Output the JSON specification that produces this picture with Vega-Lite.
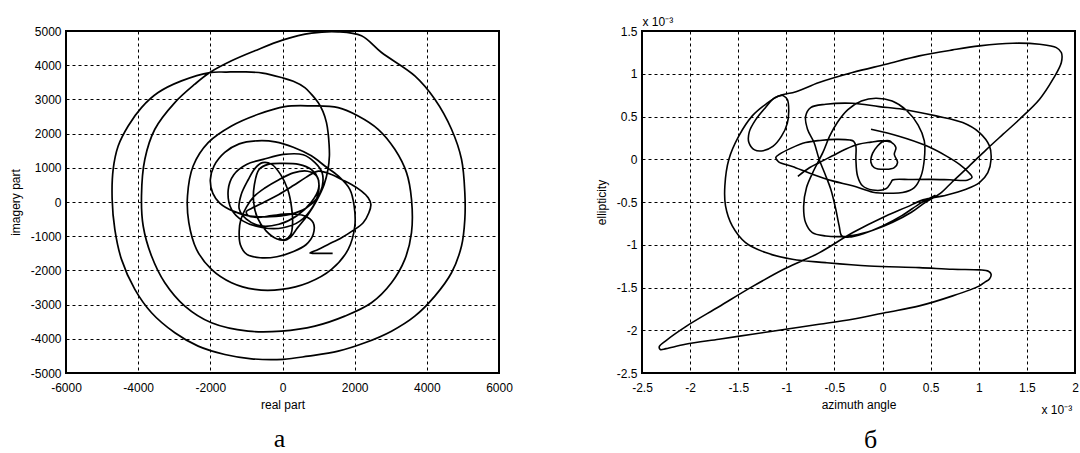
{
  "$schema": "https://vega.github.io/schema/vega-lite/v6.json",
  "background": "white",
  "padding": {"left": 8, "top": 14, "right": 0, "bottom": 0},
  "spacing": 143,
  "bounds": "flush",
  "config": {
    "view": {"stroke": "black", "strokeWidth": 2},
    "axis": {
      "labelFont": "Liberation Sans", "labelFontSize": 12, "labelColor": "#000",
      "titleFont": "Liberation Sans", "titleFontSize": 12, "titleFontWeight": "normal", "titleColor": "#000",
      "grid": true, "gridColor": "#000", "gridDash": [3, 3], "gridOpacity": 1, "gridWidth": 1,
      "ticks": false, "domain": false, "labelPadding": 5, "labelFlush": false, "labelOverlap": false
    },
    "axisX": {"labelPadding": 9}
  },
  "datasets": {
    "left": [
      {"i":1,"x":-100,"y":-1050},{"i":2,"x":50,"y":-1120},{"i":3,"x":200,"y":-1050},{"i":4,"x":420,"y":-750},{"i":5,"x":700,"y":-380},
      {"i":6,"x":950,"y":50},{"i":7,"x":1150,"y":500},{"i":8,"x":1260,"y":950},{"i":9,"x":1300,"y":1350},{"i":10,"x":1290,"y":1700},
      {"i":11,"x":1266,"y":2000},{"i":12,"x":1219,"y":2322},{"i":13,"x":1120,"y":2650},{"i":14,"x":988,"y":2907},{"i":15,"x":800,"y":3150},
      {"i":16,"x":619,"y":3346},{"i":17,"x":300,"y":3530},{"i":18,"x":-28,"y":3639},{"i":19,"x":-550,"y":3770},{"i":20,"x":-1044,"y":3805},
      {"i":21,"x":-1550,"y":3800},{"i":22,"x":-2014,"y":3785},{"i":23,"x":-2799,"y":3541},{"i":24,"x":-3446,"y":3200},{"i":25,"x":-3908,"y":2761},
      {"i":26,"x":-4277,"y":2224},{"i":27,"x":-4554,"y":1639},{"i":28,"x":-4693,"y":956},{"i":29,"x":-4721,"y":78},{"i":30,"x":-4647,"y":-800},
      {"i":31,"x":-4462,"y":-1678},{"i":32,"x":-4092,"y":-2556},{"i":33,"x":-3630,"y":-3239},{"i":34,"x":-2984,"y":-3824},{"i":35,"x":-2337,"y":-4215},
      {"i":36,"x":-1598,"y":-4459},{"i":37,"x":-859,"y":-4585},{"i":38,"x":18,"y":-4600},{"i":39,"x":711,"y":-4507},{"i":40,"x":1543,"y":-4361},
      {"i":41,"x":2282,"y":-4117},{"i":42,"x":3021,"y":-3776},{"i":43,"x":3667,"y":-3337},{"i":44,"x":4222,"y":-2751},{"i":45,"x":4684,"y":-2068},
      {"i":46,"x":4961,"y":-1288},{"i":47,"x":5053,"y":-507},{"i":48,"x":5053,"y":273},{"i":49,"x":4961,"y":1249},{"i":50,"x":4684,"y":2127},
      {"i":51,"x":4222,"y":3005},{"i":52,"x":3667,"y":3688},{"i":53,"x":2744,"y":4371},{"i":54,"x":2189,"y":4859},{"i":55,"x":1543,"y":4976},
      {"i":56,"x":804,"y":4937},{"i":57,"x":18,"y":4741},{"i":58,"x":-767,"y":4420},{"i":59,"x":-1413,"y":4127},{"i":60,"x":-2014,"y":3785},
      {"i":61,"x":-2430,"y":3444},{"i":62,"x":-2984,"y":2907},{"i":63,"x":-3538,"y":2127},{"i":64,"x":-3815,"y":1249},{"i":65,"x":-3908,"y":176},
      {"i":66,"x":-3861,"y":-702},{"i":67,"x":-3630,"y":-1580},{"i":68,"x":-3261,"y":-2361},{"i":69,"x":-2707,"y":-3044},{"i":70,"x":-1968,"y":-3532},
      {"i":71,"x":-952,"y":-3776},{"i":72,"x":-28,"y":-3776},{"i":73,"x":896,"y":-3629},{"i":74,"x":1727,"y":-3337},{"i":75,"x":2466,"y":-2946},
      {"i":76,"x":3021,"y":-2361},{"i":77,"x":3390,"y":-1678},{"i":78,"x":3575,"y":-898},{"i":79,"x":3575,"y":78},{"i":80,"x":3437,"y":859},
      {"i":81,"x":3113,"y":1541},{"i":82,"x":2651,"y":2127},{"i":83,"x":2097,"y":2517},{"i":84,"x":1543,"y":2761},{"i":85,"x":804,"y":2810},
      {"i":86,"x":65,"y":2790},{"i":87,"x":-674,"y":2566},{"i":88,"x":-1413,"y":2224},{"i":89,"x":-2060,"y":1737},{"i":90,"x":-2476,"y":1054},
      {"i":91,"x":-2633,"y":176},{"i":92,"x":-2596,"y":-605},{"i":93,"x":-2383,"y":-1385},{"i":94,"x":-1968,"y":-1971},{"i":95,"x":-1413,"y":-2361},
      {"i":96,"x":-767,"y":-2556},{"i":97,"x":-28,"y":-2556},{"i":98,"x":711,"y":-2361},{"i":99,"x":1358,"y":-1971},{"i":100,"x":1820,"y":-1385},
      {"i":101,"x":2004,"y":-702},{"i":102,"x":1986,"y":-117},{"i":103,"x":1866,"y":371},{"i":104,"x":1543,"y":761},{"i":105,"x":1173,"y":1054},
      {"i":106,"x":800,"y":1350},{"i":107,"x":300,"y":1600},{"i":108,"x":-200,"y":1760},{"i":109,"x":-700,"y":1790},{"i":110,"x":-1200,"y":1700},
      {"i":111,"x":-1600,"y":1450},{"i":112,"x":-1900,"y":1050},{"i":113,"x":-2000,"y":650},{"i":114,"x":-1930,"y":250},{"i":115,"x":-1740,"y":-30},
      {"i":116,"x":-1366,"y":-267},{"i":117,"x":-904,"y":-411},{"i":118,"x":-350,"y":-430},{"i":119,"x":204,"y":-361},{"i":120,"x":650,"y":-180},
      {"i":121,"x":950,"y":100},{"i":122,"x":1100,"y":450},{"i":123,"x":1100,"y":850},{"i":124,"x":900,"y":1150},{"i":125,"x":574,"y":1380},
      {"i":126,"x":19,"y":1391},{"i":127,"x":-535,"y":1245},{"i":128,"x":-997,"y":1099},{"i":129,"x":-1350,"y":800},{"i":130,"x":-1505,"y":350},
      {"i":131,"x":-1413,"y":-218},{"i":132,"x":-1089,"y":-559},{"i":133,"x":-535,"y":-752},{"i":134,"x":19,"y":-752},{"i":135,"x":481,"y":-559},
      {"i":136,"x":850,"y":-120},{"i":137,"x":1000,"y":300},{"i":138,"x":980,"y":700},{"i":139,"x":800,"y":950},{"i":140,"x":450,"y":1100},
      {"i":141,"x":0,"y":1130},{"i":142,"x":-400,"y":1100},{"i":143,"x":-650,"y":950},{"i":144,"x":-780,"y":500},{"i":145,"x":-800,"y":0},
      {"i":146,"x":-700,"y":-450},{"i":147,"x":-450,"y":-850},{"i":148,"x":-150,"y":-1080},{"i":149,"x":80,"y":-1100},{"i":150,"x":230,"y":-950},
      {"i":151,"x":280,"y":-600},{"i":152,"x":250,"y":-150},{"i":153,"x":150,"y":350},{"i":154,"x":-50,"y":800},{"i":155,"x":-300,"y":1100},
      {"i":156,"x":-550,"y":1150},{"i":157,"x":-750,"y":1000},{"i":158,"x":-950,"y":650},{"i":159,"x":-1150,"y":200},{"i":160,"x":-1200,"y":-200},
      {"i":161,"x":-1000,"y":-500},{"i":162,"x":-600,"y":-700},{"i":163,"x":-100,"y":-650},{"i":164,"x":400,"y":-400},{"i":165,"x":800,"y":0},
      {"i":166,"x":1000,"y":400},{"i":167,"x":950,"y":750},{"i":168,"x":700,"y":900},{"i":169,"x":300,"y":850},{"i":170,"x":-100,"y":650},
      {"i":171,"x":-500,"y":400},{"i":172,"x":-800,"y":150},{"i":173,"x":-1000,"y":-150},{"i":174,"x":-1150,"y":-500},{"i":175,"x":-1200,"y":-850},
      {"i":176,"x":-1170,"y":-1240},{"i":177,"x":-988,"y":-1532},{"i":178,"x":-618,"y":-1630},{"i":179,"x":-156,"y":-1600},{"i":180,"x":306,"y":-1450},
      {"i":181,"x":650,"y":-1250},{"i":182,"x":850,"y":-950},{"i":183,"x":850,"y":-600},{"i":184,"x":600,"y":-400},{"i":185,"x":200,"y":-350},
      {"i":186,"x":-300,"y":-400},{"i":187,"x":-700,"y":-450},{"i":188,"x":-950,"y":-400},{"i":189,"x":-1000,"y":-280},{"i":190,"x":-850,"y":-180},
      {"i":191,"x":-500,"y":0},{"i":192,"x":-100,"y":220},{"i":193,"x":300,"y":480},{"i":194,"x":650,"y":720},{"i":195,"x":989,"y":904},
      {"i":196,"x":1358,"y":806},{"i":197,"x":1636,"y":660},{"i":198,"x":1913,"y":514},{"i":199,"x":2190,"y":319},{"i":200,"x":2375,"y":124},
      {"i":201,"x":2449,"y":-71},{"i":202,"x":2394,"y":-314},{"i":203,"x":2236,"y":-606},{"i":204,"x":1959,"y":-831},{"i":205,"x":1636,"y":-1045},
      {"i":206,"x":1266,"y":-1240},{"i":207,"x":989,"y":-1386},{"i":208,"x":800,"y":-1470},{"i":209,"x":760,"y":-1495},{"i":210,"x":900,"y":-1500},
      {"i":211,"x":1390,"y":-1500}
    ],
    "right": [
      {"s":1,"i":1,"x":-0.12,"y":0.35},{"s":1,"i":2,"x":0.17,"y":0.27},{"s":1,"i":3,"x":0.45,"y":0.16},{"s":1,"i":4,"x":0.66,"y":0.04},
      {"s":1,"i":5,"x":0.8,"y":-0.06},{"s":1,"i":6,"x":0.9,"y":-0.16},{"s":1,"i":7,"x":0.93,"y":-0.21},{"s":1,"i":8,"x":0.88,"y":-0.245},
      {"s":1,"i":9,"x":0.7,"y":-0.24},{"s":1,"i":10,"x":0.5,"y":-0.235},{"s":1,"i":11,"x":0.3,"y":-0.237},{"s":1,"i":12,"x":0.104,"y":-0.242},
      {"s":1,"i":13,"x":0.087,"y":-0.273},{"s":1,"i":14,"x":0.035,"y":-0.345},{"s":1,"i":15,"x":-0.104,"y":-0.36},{"s":1,"i":16,"x":-0.208,"y":-0.31},
      {"s":1,"i":17,"x":-0.26,"y":-0.195},{"s":1,"i":18,"x":-0.277,"y":0},{"s":1,"i":19,"x":-0.277,"y":0.15},{"s":1,"i":20,"x":-0.3,"y":0.21},
      {"s":1,"i":21,"x":-0.34,"y":0.225},{"s":1,"i":22,"x":-0.486,"y":0.232},{"s":1,"i":23,"x":-0.65,"y":0.22},{"s":1,"i":24,"x":-0.8,"y":0.195},
      {"s":1,"i":25,"x":-0.95,"y":0.13},{"s":1,"i":26,"x":-1.07,"y":0.06},{"s":1,"i":27,"x":-1.11,"y":0.02},{"s":1,"i":28,"x":-1.08,"y":-0.03},
      {"s":1,"i":29,"x":-0.937,"y":-0.085},{"s":1,"i":30,"x":-0.729,"y":-0.175},{"s":1,"i":31,"x":-0.52,"y":-0.253},{"s":1,"i":32,"x":-0.312,"y":-0.31},
      {"s":1,"i":33,"x":-0.1,"y":-0.385},{"s":1,"i":34,"x":0.069,"y":-0.398},{"s":1,"i":35,"x":0.208,"y":-0.39},{"s":1,"i":36,"x":0.33,"y":-0.331},
      {"s":1,"i":37,"x":0.4,"y":-0.195},{"s":1,"i":38,"x":0.434,"y":0},{"s":1,"i":39,"x":0.434,"y":0.214},{"s":1,"i":40,"x":0.37,"y":0.4},
      {"s":1,"i":41,"x":0.25,"y":0.57},{"s":1,"i":42,"x":0.1,"y":0.68},{"s":1,"i":43,"x":-0.07,"y":0.713},{"s":1,"i":44,"x":-0.22,"y":0.68},
      {"s":1,"i":45,"x":-0.36,"y":0.58},{"s":1,"i":46,"x":-0.47,"y":0.43},{"s":1,"i":47,"x":-0.55,"y":0.27},{"s":1,"i":48,"x":-0.62,"y":0.08},
      {"s":1,"i":49,"x":-0.71,"y":-0.12},{"s":1,"i":50,"x":-0.79,"y":-0.33},{"s":1,"i":51,"x":-0.82,"y":-0.55},{"s":1,"i":52,"x":-0.8,"y":-0.74},
      {"s":1,"i":53,"x":-0.73,"y":-0.858},{"s":1,"i":54,"x":-0.59,"y":-0.897},{"s":1,"i":55,"x":-0.45,"y":-0.905},{"s":1,"i":56,"x":-0.3,"y":-0.89},
      {"s":1,"i":57,"x":-0.1,"y":-0.83},{"s":1,"i":58,"x":0.1,"y":-0.74},{"s":1,"i":59,"x":0.3,"y":-0.62},{"s":1,"i":60,"x":0.45,"y":-0.5},
      {"s":1,"i":61,"x":0.6,"y":-0.4},{"s":1,"i":62,"x":0.729,"y":-0.26},{"s":1,"i":63,"x":0.9,"y":-0.08},{"s":1,"i":64,"x":1.076,"y":0.11},
      {"s":1,"i":65,"x":1.25,"y":0.29},{"s":1,"i":66,"x":1.424,"y":0.468},{"s":1,"i":67,"x":1.632,"y":0.702},{"s":1,"i":68,"x":1.771,"y":0.936},
      {"s":1,"i":69,"x":1.858,"y":1.131},{"s":1,"i":70,"x":1.858,"y":1.248},{"s":1,"i":71,"x":1.806,"y":1.306},{"s":1,"i":72,"x":1.632,"y":1.345},
      {"s":1,"i":73,"x":1.354,"y":1.357},{"s":1,"i":74,"x":1.007,"y":1.326},{"s":1,"i":75,"x":0.729,"y":1.279},{"s":1,"i":76,"x":0.382,"y":1.209},
      {"s":1,"i":77,"x":0.035,"y":1.111},{"s":1,"i":78,"x":-0.313,"y":1.014},{"s":1,"i":79,"x":-0.66,"y":0.897},{"s":1,"i":80,"x":-0.9,"y":0.79},
      {"s":1,"i":81,"x":-1.08,"y":0.74},{"s":1,"i":82,"x":-1.215,"y":0.643},{"s":1,"i":83,"x":-1.354,"y":0.507},{"s":1,"i":84,"x":-1.493,"y":0.273},
      {"s":1,"i":85,"x":-1.597,"y":0},{"s":1,"i":86,"x":-1.639,"y":-0.312},{"s":1,"i":87,"x":-1.632,"y":-0.546},{"s":1,"i":88,"x":-1.562,"y":-0.78},
      {"s":1,"i":89,"x":-1.424,"y":-0.975},{"s":1,"i":90,"x":-1.215,"y":-1.092},{"s":1,"i":91,"x":-0.938,"y":-1.17},{"s":1,"i":92,"x":-0.59,"y":-1.209},
      {"s":1,"i":93,"x":-0.139,"y":-1.248},{"s":1,"i":94,"x":0.382,"y":-1.267},{"s":1,"i":95,"x":0.729,"y":-1.287},{"s":1,"i":96,"x":1.007,"y":-1.294},
      {"s":1,"i":97,"x":1.1,"y":-1.31},{"s":1,"i":98,"x":1.128,"y":-1.345},{"s":1,"i":99,"x":1.111,"y":-1.4},{"s":1,"i":100,"x":1.06,"y":-1.44},
      {"s":1,"i":101,"x":1.007,"y":-1.481},{"s":1,"i":102,"x":0.729,"y":-1.598},{"s":1,"i":103,"x":0.382,"y":-1.715},{"s":1,"i":104,"x":0.035,"y":-1.793},
      {"s":1,"i":105,"x":-0.313,"y":-1.871},{"s":1,"i":106,"x":-0.66,"y":-1.93},{"s":1,"i":107,"x":-1.007,"y":-1.988},{"s":1,"i":108,"x":-1.354,"y":-2.047},
      {"s":1,"i":109,"x":-1.701,"y":-2.105},{"s":1,"i":110,"x":-2.049,"y":-2.164},{"s":1,"i":111,"x":-2.25,"y":-2.215},{"s":1,"i":112,"x":-2.31,"y":-2.225},
      {"s":1,"i":113,"x":-2.32,"y":-2.19},{"s":1,"i":114,"x":-2.25,"y":-2.12},{"s":1,"i":115,"x":-2.049,"y":-1.96},{"s":1,"i":116,"x":-1.701,"y":-1.725},
      {"s":1,"i":117,"x":-1.354,"y":-1.49},{"s":1,"i":118,"x":-1.007,"y":-1.275},{"s":1,"i":119,"x":-0.66,"y":-1.095},{"s":1,"i":120,"x":-0.313,"y":-0.86},
      {"s":1,"i":121,"x":0.035,"y":-0.663},{"s":1,"i":122,"x":0.25,"y":-0.56},{"s":1,"i":123,"x":0.42,"y":-0.475},{"s":1,"i":124,"x":0.66,"y":-0.42},
      {"s":1,"i":125,"x":0.868,"y":-0.351},{"s":1,"i":126,"x":1.007,"y":-0.273},{"s":1,"i":127,"x":1.094,"y":-0.156},{"s":1,"i":128,"x":1.128,"y":0},
      {"s":1,"i":129,"x":1.111,"y":0.156},{"s":1,"i":130,"x":1.007,"y":0.312},{"s":1,"i":131,"x":0.833,"y":0.429},{"s":1,"i":132,"x":0.556,"y":0.507},
      {"s":1,"i":133,"x":0.208,"y":0.585},{"s":1,"i":134,"x":-0.035,"y":0.616},{"s":1,"i":135,"x":-0.313,"y":0.655},{"s":1,"i":136,"x":-0.59,"y":0.643},
      {"s":1,"i":137,"x":-0.747,"y":0.604},{"s":1,"i":138,"x":-0.8,"y":0.5},{"s":1,"i":139,"x":-0.78,"y":0.35},{"s":1,"i":140,"x":-0.712,"y":0.195},
      {"s":1,"i":141,"x":-0.659,"y":0},{"s":1,"i":142,"x":-0.59,"y":-0.195},{"s":1,"i":143,"x":-0.538,"y":-0.351},{"s":1,"i":144,"x":-0.486,"y":-0.585},
      {"s":1,"i":145,"x":-0.451,"y":-0.78},{"s":1,"i":146,"x":-0.423,"y":-0.897},{"s":1,"i":147,"x":-0.35,"y":-0.91},{"s":1,"i":148,"x":-0.2,"y":-0.87},
      {"s":1,"i":149,"x":0,"y":-0.78},{"s":1,"i":150,"x":0.2,"y":-0.66},{"s":1,"i":151,"x":0.4,"y":-0.51},{"s":1,"i":152,"x":0.55,"y":-0.42},
      {"s":2,"i":1,"x":-0.88,"y":-0.2},{"s":2,"i":2,"x":-0.76,"y":-0.1},{"s":2,"i":3,"x":-0.66,"y":-0.04},{"s":2,"i":4,"x":-0.52,"y":0.04},
      {"s":2,"i":5,"x":-0.38,"y":0.12},{"s":2,"i":6,"x":-0.25,"y":0.175},{"s":2,"i":7,"x":-0.12,"y":0.2},{"s":2,"i":8,"x":-0.02,"y":0.215},
      {"s":2,"i":9,"x":0.087,"y":0.2},{"s":2,"i":10,"x":0.139,"y":0.136},{"s":2,"i":11,"x":0.122,"y":0.058},{"s":2,"i":12,"x":0.156,"y":-0.039},
      {"s":2,"i":13,"x":0.122,"y":-0.097},{"s":2,"i":14,"x":0.035,"y":-0.117},{"s":2,"i":15,"x":-0.087,"y":-0.097},{"s":2,"i":16,"x":-0.121,"y":-0.035},
      {"s":2,"i":17,"x":-0.104,"y":0.069},{"s":2,"i":18,"x":-0.052,"y":0.156},{"s":2,"i":19,"x":0,"y":0.205},{"s":2,"i":20,"x":0.07,"y":0.215},
      {"s":2,"i":21,"x":0.1,"y":0.19},
      {"s":3,"i":1,"x":-1.04,"y":0.75},{"s":3,"i":2,"x":-0.99,"y":0.7},{"s":3,"i":3,"x":-0.975,"y":0.57},{"s":3,"i":4,"x":-0.99,"y":0.42},
      {"s":3,"i":5,"x":-1.05,"y":0.27},{"s":3,"i":6,"x":-1.14,"y":0.15},{"s":3,"i":7,"x":-1.24,"y":0.1},{"s":3,"i":8,"x":-1.33,"y":0.11},
      {"s":3,"i":9,"x":-1.39,"y":0.2},{"s":3,"i":10,"x":-1.385,"y":0.32},{"s":3,"i":11,"x":-1.32,"y":0.46},{"s":3,"i":12,"x":-1.22,"y":0.6},
      {"s":3,"i":13,"x":-1.12,"y":0.72},{"s":3,"i":14,"x":-1.04,"y":0.75}
    ]
  },
  "hconcat": [
    {
      "width": 433,
      "height": 342,
      "title": {"text": "а", "orient": "bottom", "frame": "group", "font": "Liberation Serif", "fontSize": 26, "fontWeight": "normal", "color": "#000", "offset": 16, "dx": -3},
      "data": {"name": "left"},
      "mark": {"type": "line", "color": "black", "strokeWidth": 1.7, "interpolate": "catmull-rom"},
      "encoding": {
        "x": {"field": "x", "type": "quantitative", "scale": {"domain": [-6000, 6000], "nice": false, "zero": false},
              "axis": {"values": [-6000, -4000, -2000, 0, 2000, 4000, 6000], "labelExpr": "toString(datum.value)", "title": "real part", "titlePadding": 6}},
        "y": {"field": "y", "type": "quantitative", "scale": {"domain": [-5000, 5000], "nice": false, "zero": false},
              "axis": {"values": [-5000, -4000, -3000, -2000, -1000, 0, 1000, 2000, 3000, 4000, 5000], "labelExpr": "toString(datum.value)", "title": "imagery part", "titlePadding": 8}},
        "order": {"field": "i", "type": "quantitative"}
      }
    },
    {
      "width": 433,
      "height": 342,
      "title": {"text": "б", "orient": "bottom", "frame": "group", "font": "Liberation Serif", "fontSize": 26, "fontWeight": "normal", "color": "#000", "offset": 12, "dx": 12},
      "data": {"name": "right"},
      "layer": [
        {
          "mark": {"type": "line", "color": "black", "strokeWidth": 1.6, "interpolate": "catmull-rom"},
          "encoding": {
            "x": {"field": "x", "type": "quantitative", "scale": {"domain": [-2.5, 2], "nice": false, "zero": false},
                  "axis": {"values": [-2.5, -2, -1.5, -1, -0.5, 0, 0.5, 1, 1.5, 2], "labelExpr": "toString(datum.value)", "title": "azimuth angle", "titlePadding": 6}},
            "y": {"field": "y", "type": "quantitative", "scale": {"domain": [-2.5, 1.5], "nice": false, "zero": false},
                  "axis": {"values": [-2.5, -2, -1.5, -1, -0.5, 0, 0.5, 1, 1.5], "labelExpr": "toString(datum.value)", "title": "ellipticity", "titlePadding": 8}},
            "detail": {"field": "s", "type": "nominal"},
            "order": {"field": "i", "type": "quantitative"}
          }
        },
        {
          "mark": {"type": "line", "strokeOpacity": 0},
          "encoding": {
            "x": {"field": "x", "type": "quantitative", "scale": {"domain": [-2.5, 2], "nice": false, "zero": false},
                  "axis": {"orient": "top", "labels": false, "grid": false, "title": "x 10⁻³", "titleAngle": 0, "titleX": 0, "titleY": -6, "titleAlign": "left", "titleBaseline": "alphabetic"}},
            "y": {"field": "y", "type": "quantitative", "scale": {"domain": [-2.5, 1.5], "nice": false, "zero": false},
                  "axis": {"orient": "right", "labels": false, "grid": false, "title": "x 10⁻³", "titleAngle": 0, "titleX": -34, "titleY": 382, "titleAlign": "left", "titleBaseline": "alphabetic"}},
            "detail": {"field": "s", "type": "nominal"},
            "order": {"field": "i", "type": "quantitative"}
          }
        }
      ],
      "resolve": {"axis": {"x": "independent", "y": "independent"}}
    }
  ]
}
